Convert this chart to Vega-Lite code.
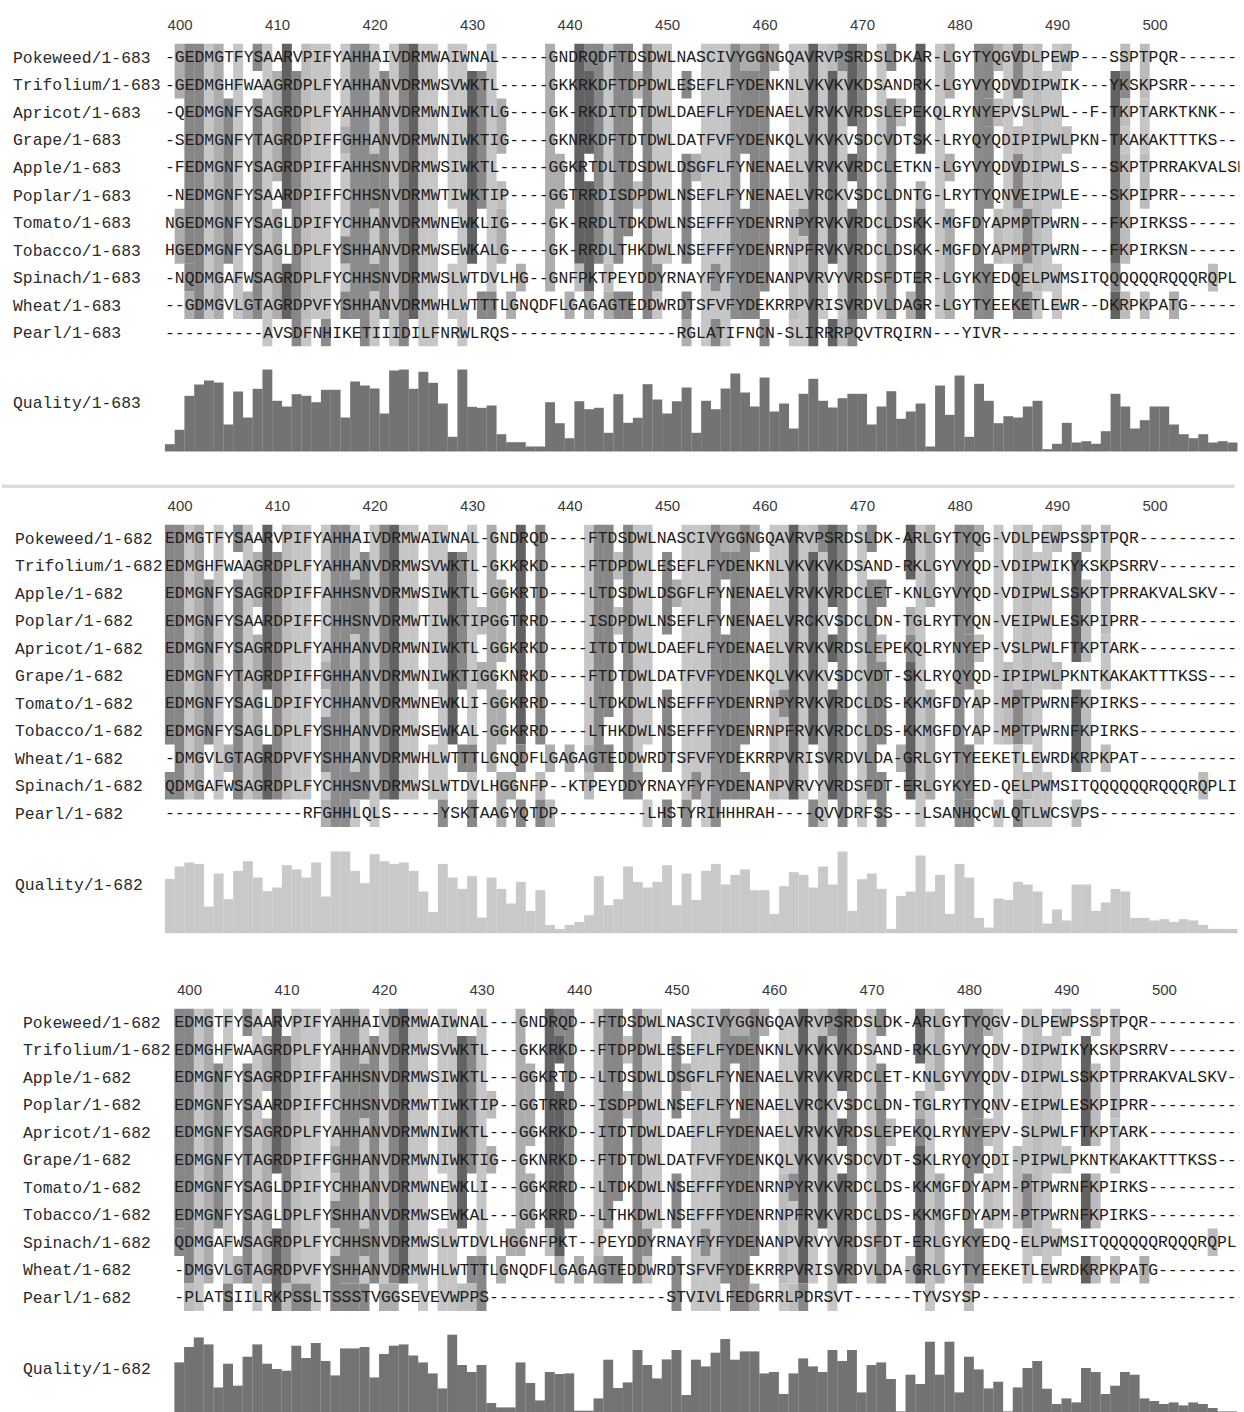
{
"$schema": "https://vega.github.io/schema/vega-lite/v6.json",
"background": "white",
"padding": {"left": 0, "top": 17.5, "right": 0, "bottom": 0},
"spacing": 0,
"bounds": "flush",
"config": {"view": {"stroke": null}, "axis": {"grid": false}},
"datasets": {
"seq1": [
{"name":"Pokeweed/1-683","start":399,"seq":"-GEDMGTFYSAARVPIFYAHHAIVDRMWAIWNAL-----GNDRQDFTDSDWLNASCIVYGGNGQAVRVPSRDSLDKAR-LGYTYQGVDLPEWP---SSPTPQR-------"},
{"name":"Trifolium/1-683","start":399,"seq":"-GEDMGHFWAAGRDPLFYAHHANVDRMWSVWKTL-----GKKRKDFTDPDWLESEFLFYDENKNLVKVKVKDSANDRK-LGYVYQDVDIPWIK---YKSKPSRR------"},
{"name":"Apricot/1-683","start":399,"seq":"-QEDMGNFYSAGRDPLFYAHHANVDRMWNIWKTLG----GK-RKDITDTDWLDAEFLFYDENAELVRVKVRDSLEPEKQLRYNYEPVSLPWL--F-TKPTARKTKNK---"},
{"name":"Grape/1-683","start":399,"seq":"-SEDMGNFYTAGRDPIFFGHHANVDRMWNIWKTIG----GKNRKDFTDTDWLDATFVFYDENKQLVKVKVSDCVDTSK-LRYQYQDIPIPWLPKN-TKAKAKTTTKS---"},
{"name":"Apple/1-683","start":399,"seq":"-FEDMGNFYSAGRDPIFFAHHSNVDRMWSIWKTL-----GGKRTDLTDSDWLDSGFLFYNENAELVRVKVRDCLETKN-LGYVYQDVDIPWLS---SKPTPRRAKVALSK"},
{"name":"Poplar/1-683","start":399,"seq":"-NEDMGNFYSAARDPIFFCHHSNVDRMWTIWKTIP----GGTRRDISDPDWLNSEFLFYNENAELVRCKVSDCLDNTG-LRYTYQNVEIPWLE---SKPIPRR-------"},
{"name":"Tomato/1-683","start":399,"seq":"NGEDMGNFYSAGLDPIFYCHHANVDRMWNEWKLIG----GK-RRDLTDKDWLNSEFFFYDENRNPYRVKVRDCLDSKK-MGFDYAPMPTPWRN---FKPIRKSS------"},
{"name":"Tobacco/1-683","start":399,"seq":"HGEDMGNFYSAGLDPLFYSHHANVDRMWSEWKALG----GK-RRDLTHKDWLNSEFFFYDENRNPFRVKVRDCLDSKK-MGFDYAPMPTPWRN---FKPIRKSN------"},
{"name":"Spinach/1-683","start":399,"seq":"-NQDMGAFWSAGRDPLFYCHHSNVDRMWSLWTDVLHG--GNFPKTPEYDDYRNAYFYFYDENANPVRVYVRDSFDTER-LGYKYEDQELPWMSITQQQQQQRQQQRQPL"},
{"name":"Wheat/1-683","start":399,"seq":"--GDMGVLGTAGRDPVFYSHHANVDRMWHLWTTTLGNQDFLGAGAGTEDDWRDTSFVFYDEKRRPVRISVRDVLDAGR-LGYTYEEKETLEWR--DKRPKPATG------"},
{"name":"Pearl/1-683","start":399,"seq":"----------AVSDFNHIKETIIIDILFNRWLRQS-----------------RGLATIFNCN-SLIRRRPQVTRQIRN---YIVR-------------------------"}
],
"seq2": [
{"name":"Pokeweed/1-682","start":399,"seq":"EDMGTFYSAARVPIFYAHHAIVDRMWAIWNAL-GNDRQD----FTDSDWLNASCIVYGGNGQAVRVPSRDSLDK-ARLGYTYQG-VDLPEWPSSPTPQR-----------"},
{"name":"Trifolium/1-682","start":399,"seq":"EDMGHFWAAGRDPLFYAHHANVDRMWSVWKTL-GKKRKD----FTDPDWLESEFLFYDENKNLVKVKVKDSAND-RKLGYVYQD-VDIPWIKYKSKPSRRV---------"},
{"name":"Apple/1-682","start":399,"seq":"EDMGNFYSAGRDPIFFAHHSNVDRMWSIWKTL-GGKRTD----LTDSDWLDSGFLFYNENAELVRVKVRDCLET-KNLGYVYQD-VDIPWLSSKPTPRRAKVALSKV---"},
{"name":"Poplar/1-682","start":399,"seq":"EDMGNFYSAARDPIFFCHHSNVDRMWTIWKTIPGGTRRD----ISDPDWLNSEFLFYNENAELVRCKVSDCLDN-TGLRYTYQN-VEIPWLESKPIPRR-----------"},
{"name":"Apricot/1-682","start":399,"seq":"EDMGNFYSAGRDPLFYAHHANVDRMWNIWKTL-GGKRKD----ITDTDWLDAEFLFYDENAELVRVKVRDSLEPEKQLRYNYEP-VSLPWLFTKPTARK-----------"},
{"name":"Grape/1-682","start":399,"seq":"EDMGNFYTAGRDPIFFGHHANVDRMWNIWKTIGGKNRKD----FTDTDWLDATFVFYDENKQLVKVKVSDCVDT-SKLRYQYQD-IPIPWLPKNTKAKAKTTTKSS----"},
{"name":"Tomato/1-682","start":399,"seq":"EDMGNFYSAGLDPIFYCHHANVDRMWNEWKLI-GGKRRD----LTDKDWLNSEFFFYDENRNPYRVKVRDCLDS-KKMGFDYAP-MPTPWRNFKPIRKS-----------"},
{"name":"Tobacco/1-682","start":399,"seq":"EDMGNFYSAGLDPLFYSHHANVDRMWSEWKAL-GGKRRD----LTHKDWLNSEFFFYDENRNPFRVKVRDCLDS-KKMGFDYAP-MPTPWRNFKPIRKS-----------"},
{"name":"Wheat/1-682","start":399,"seq":"-DMGVLGTAGRDPVFYSHHANVDRMWHLWTTTLGNQDFLGAGAGTEDDWRDTSFVFYDEKRRPVRISVRDVLDA-GRLGYTYEEKETLEWRDKRPKPAT-----------"},
{"name":"Spinach/1-682","start":399,"seq":"QDMGAFWSAGRDPLFYCHHSNVDRMWSLWTDVLHGGNFP--KTPEYDDYRNAYFYFYDENANPVRVYVRDSFDT-ERLGYKYED-QELPWMSITQQQQQQRQQQRQPLI"},
{"name":"Pearl/1-682","start":399,"seq":"--------------RFGHHLQLS-----YSKTAAGYQTDP---------LHSTYRIHHHRAH----QVVDRFSS---LSANHQCWLQTLWCSVPS---------------"}
],
"seq3": [
{"name":"Pokeweed/1-682","start":399,"seq":"EDMGTFYSAARVPIFYAHHAIVDRMWAIWNAL---GNDRQD--FTDSDWLNASCIVYGGNGQAVRVPSRDSLDK-ARLGYTYQGV-DLPEWPSSPTPQR-----------"},
{"name":"Trifolium/1-682","start":399,"seq":"EDMGHFWAAGRDPLFYAHHANVDRMWSVWKTL---GKKRKD--FTDPDWLESEFLFYDENKNLVKVKVKDSAND-RKLGYVYQDV-DIPWIKYKSKPSRRV---------"},
{"name":"Apple/1-682","start":399,"seq":"EDMGNFYSAGRDPIFFAHHSNVDRMWSIWKTL---GGKRTD--LTDSDWLDSGFLFYNENAELVRVKVRDCLET-KNLGYVYQDV-DIPWLSSKPTPRRAKVALSKV---"},
{"name":"Poplar/1-682","start":399,"seq":"EDMGNFYSAARDPIFFCHHSNVDRMWTIWKTIP--GGTRRD--ISDPDWLNSEFLFYNENAELVRCKVSDCLDN-TGLRYTYQNV-EIPWLESKPIPRR-----------"},
{"name":"Apricot/1-682","start":399,"seq":"EDMGNFYSAGRDPLFYAHHANVDRMWNIWKTL---GGKRKD--ITDTDWLDAEFLFYDENAELVRVKVRDSLEPEKQLRYNYEPV-SLPWLFTKPTARK-----------"},
{"name":"Grape/1-682","start":399,"seq":"EDMGNFYTAGRDPIFFGHHANVDRMWNIWKTIG--GKNRKD--FTDTDWLDATFVFYDENKQLVKVKVSDCVDT-SKLRYQYQDI-PIPWLPKNTKAKAKTTTKSS----"},
{"name":"Tomato/1-682","start":399,"seq":"EDMGNFYSAGLDPIFYCHHANVDRMWNEWKLI---GGKRRD--LTDKDWLNSEFFFYDENRNPYRVKVRDCLDS-KKMGFDYAPM-PTPWRNFKPIRKS-----------"},
{"name":"Tobacco/1-682","start":399,"seq":"EDMGNFYSAGLDPLFYSHHANVDRMWSEWKAL---GGKRRD--LTHKDWLNSEFFFYDENRNPFRVKVRDCLDS-KKMGFDYAPM-PTPWRNFKPIRKS-----------"},
{"name":"Spinach/1-682","start":399,"seq":"QDMGAFWSAGRDPLFYCHHSNVDRMWSLWTDVLHGGNFPKT--PEYDDYRNAYFYFYDENANPVRVYVRDSFDT-ERLGYKYEDQ-ELPWMSITQQQQQQRQQQRQPL"},
{"name":"Wheat/1-682","start":399,"seq":"-DMGVLGTAGRDPVFYSHHANVDRMWHLWTTTLGNQDFLGAGAGTEDDWRDTSFVFYDEKRRPVRISVRDVLDA-GRLGYTYEEKETLEWRDKRPKPATG----------"},
{"name":"Pearl/1-682","start":399,"seq":"-PLATSIILRKPSSLTSSSTVGGSEVEVWPPS------------------STVIVLFEDGRRLPDRSVT------TYVSYSP----------------------------"}
],
"shade1": [
{"c":400,"y0":0,"y1":2,"k":"o"},{"c":400,"y0":6,"y1":8,"k":"o"},
{"c":401,"y0":0,"y1":8,"k":"m"},{"c":401,"y0":8,"y1":9,"k":"g"},{"c":401,"y0":9,"y1":10,"k":"o"},
{"c":402,"y0":0,"y1":10,"k":"m"},{"c":403,"y0":0,"y1":10,"k":"b"},{"c":404,"y0":0,"y1":10,"k":"o"},
{"c":405,"y0":2,"y1":8,"k":"g"},{"c":406,"y0":0,"y1":10,"k":"b"},{"c":407,"y0":9,"y1":10,"k":"o"},
{"c":408,"y0":0,"y1":1,"k":"g"},{"c":408,"y0":2,"y1":10,"k":"g"},{"c":409,"y0":0,"y1":11,"k":"b"},
{"c":410,"y0":1,"y1":5,"k":"o"},{"c":410,"y0":6,"y1":10,"k":"o"},
{"c":411,"y0":0,"y1":6,"k":"r"},{"c":411,"y0":8,"y1":10,"k":"r"},
{"c":412,"y0":1,"y1":11,"k":"m"},{"c":413,"y0":0,"y1":10,"k":"y"},{"c":413,"y0":10,"y1":11,"k":"b"},
{"c":414,"y0":0,"y1":10,"k":"b"},{"c":415,"y0":0,"y1":10,"k":"b"},{"c":415,"y0":10,"y1":11,"k":"c"},
{"c":417,"y0":0,"y1":3,"k":"b"},{"c":417,"y0":3,"y1":4,"k":"o"},{"c":417,"y0":4,"y1":7,"k":"b"},{"c":417,"y0":7,"y1":8,"k":"g"},{"c":417,"y0":8,"y1":9,"k":"b"},{"c":417,"y0":9,"y1":10,"k":"g"},
{"c":418,"y0":0,"y1":10,"k":"c"},{"c":419,"y0":0,"y1":10,"k":"c"},{"c":419,"y0":10,"y1":11,"k":"g"},
{"c":420,"y0":0,"y1":4,"k":"b"},{"c":420,"y0":4,"y1":6,"k":"g"},{"c":420,"y0":6,"y1":8,"k":"b"},{"c":420,"y0":8,"y1":9,"k":"g"},{"c":420,"y0":9,"y1":11,"k":"b"},
{"c":421,"y0":1,"y1":10,"k":"g"},{"c":422,"y0":0,"y1":11,"k":"b"},{"c":423,"y0":0,"y1":11,"k":"m"},
{"c":424,"y0":0,"y1":10,"k":"r"},{"c":425,"y0":0,"y1":11,"k":"b"},{"c":426,"y0":0,"y1":11,"k":"b"},
{"c":428,"y0":0,"y1":6,"k":"b"},{"c":428,"y0":8,"y1":10,"k":"b"},{"c":429,"y0":0,"y1":11,"k":"b"},
{"c":430,"y0":1,"y1":8,"k":"r"},{"c":431,"y0":1,"y1":6,"k":"g"},{"c":431,"y0":9,"y1":10,"k":"g"},
{"c":432,"y0":0,"y1":9,"k":"b"},{"c":432,"y0":9,"y1":10,"k":"g"},
{"c":433,"y0":2,"y1":4,"k":"o"},{"c":433,"y0":5,"y1":6,"k":"y"},{"c":433,"y0":6,"y1":8,"k":"o"},
{"c":434,"y0":9,"y1":10,"k":"o"},{"c":435,"y0":8,"y1":9,"k":"o"},{"c":438,"y0":0,"y1":9,"k":"o"},
{"c":439,"y0":4,"y1":6,"k":"o"},{"c":440,"y0":9,"y1":10,"k":"o"},
{"c":441,"y0":0,"y1":8,"k":"r"},{"c":441,"y0":8,"y1":9,"k":"y"},
{"c":442,"y0":0,"y1":1,"k":"g"},{"c":442,"y0":1,"y1":4,"k":"r"},{"c":442,"y0":5,"y1":9,"k":"r"},{"c":442,"y0":9,"y1":10,"k":"o"},
{"c":443,"y0":0,"y1":8,"k":"m"},
{"c":444,"y0":0,"y1":8,"k":"b"},{"c":444,"y0":8,"y1":9,"k":"y"},{"c":444,"y0":9,"y1":10,"k":"o"},
{"c":445,"y0":0,"y1":8,"k":"g"},{"c":445,"y0":9,"y1":10,"k":"g"},
{"c":446,"y0":0,"y1":7,"k":"m"},{"c":446,"y0":9,"y1":10,"k":"m"},
{"c":447,"y0":1,"y1":2,"k":"y"},{"c":447,"y0":5,"y1":6,"k":"y"},{"c":448,"y0":0,"y1":10,"k":"m"},
{"c":449,"y0":0,"y1":8,"k":"b"},{"c":449,"y0":8,"y1":9,"k":"c"},{"c":449,"y0":9,"y1":10,"k":"b"},
{"c":450,"y0":0,"y1":8,"k":"b"},
{"c":452,"y0":1,"y1":2,"k":"g"},{"c":452,"y0":4,"y1":8,"k":"g"},{"c":452,"y0":9,"y1":10,"k":"g"},{"c":452,"y0":10,"y1":11,"k":"o"},
{"c":453,"y0":4,"y1":5,"k":"o"},{"c":454,"y0":0,"y1":11,"k":"b"},
{"c":455,"y0":0,"y1":8,"k":"b"},{"c":455,"y0":8,"y1":9,"k":"c"},{"c":455,"y0":9,"y1":10,"k":"b"},{"c":455,"y0":10,"y1":11,"k":"g"},
{"c":456,"y0":0,"y1":11,"k":"b"},{"c":457,"y0":0,"y1":10,"k":"c"},
{"c":458,"y0":0,"y1":1,"k":"o"},{"c":458,"y0":1,"y1":4,"k":"m"},{"c":458,"y0":6,"y1":10,"k":"m"},
{"c":459,"y0":0,"y1":1,"k":"o"},{"c":459,"y0":1,"y1":10,"k":"m"},
{"c":460,"y0":0,"y1":9,"k":"g"},{"c":460,"y0":10,"y1":11,"k":"g"},{"c":461,"y0":0,"y1":1,"k":"o"},
{"c":463,"y0":0,"y1":6,"k":"b"},{"c":463,"y0":6,"y1":10,"k":"y"},{"c":463,"y0":10,"y1":11,"k":"b"},
{"c":464,"y0":0,"y1":6,"k":"b"},{"c":464,"y0":6,"y1":7,"k":"c"},{"c":464,"y0":7,"y1":11,"k":"b"},
{"c":465,"y0":0,"y1":11,"k":"r"},{"c":466,"y0":0,"y1":10,"k":"b"},
{"c":467,"y0":0,"y1":1,"k":"y"},{"c":467,"y0":1,"y1":8,"k":"r"},{"c":467,"y0":10,"y1":11,"k":"r"},
{"c":468,"y0":0,"y1":1,"k":"g"},{"c":468,"y0":1,"y1":10,"k":"b"},{"c":468,"y0":10,"y1":11,"k":"y"},
{"c":469,"y0":0,"y1":3,"k":"r"},{"c":469,"y0":4,"y1":5,"k":"r"},{"c":469,"y0":6,"y1":10,"k":"r"},{"c":469,"y0":10,"y1":11,"k":"g"},
{"c":470,"y0":0,"y1":10,"k":"m"},{"c":472,"y0":0,"y1":10,"k":"b"},
{"c":473,"y0":0,"y1":1,"k":"m"},{"c":473,"y0":2,"y1":10,"k":"m"},
{"c":474,"y0":2,"y1":3,"k":"y"},{"c":475,"y0":9,"y1":10,"k":"o"},
{"c":476,"y0":0,"y1":4,"k":"r"},{"c":476,"y0":5,"y1":6,"k":"o"},{"c":476,"y0":6,"y1":10,"k":"r"},
{"c":478,"y0":0,"y1":10,"k":"b"},
{"c":479,"y0":0,"y1":2,"k":"o"},{"c":479,"y0":4,"y1":5,"k":"o"},{"c":479,"y0":6,"y1":10,"k":"o"},
{"c":482,"y0":0,"y1":10,"k":"c"},
{"c":483,"y0":0,"y1":2,"k":"g"},{"c":483,"y0":2,"y1":3,"k":"m"},{"c":483,"y0":3,"y1":6,"k":"g"},{"c":483,"y0":8,"y1":10,"k":"m"},
{"c":484,"y0":0,"y1":1,"k":"o"},{"c":484,"y0":2,"y1":3,"k":"y"},{"c":484,"y0":6,"y1":8,"k":"y"},
{"c":485,"y0":0,"y1":8,"k":"b"},
{"c":486,"y0":0,"y1":2,"k":"m"},{"c":486,"y0":3,"y1":4,"k":"y"},{"c":486,"y0":4,"y1":6,"k":"m"},{"c":486,"y0":6,"y1":8,"k":"y"},{"c":486,"y0":8,"y1":10,"k":"m"},
{"c":487,"y0":0,"y1":6,"k":"b"},{"c":487,"y0":6,"y1":8,"k":"g"},{"c":487,"y0":8,"y1":9,"k":"b"},{"c":487,"y0":9,"y1":10,"k":"g"},
{"c":488,"y0":0,"y1":9,"k":"y"},{"c":488,"y0":9,"y1":10,"k":"b"},{"c":489,"y0":1,"y1":9,"k":"b"},
{"c":490,"y0":0,"y1":6,"k":"b"},{"c":490,"y0":8,"y1":10,"k":"b"},
{"c":491,"y0":0,"y1":1,"k":"y"},{"c":491,"y0":3,"y1":4,"k":"y"},
{"c":496,"y0":1,"y1":8,"k":"r"},{"c":496,"y0":8,"y1":9,"k":"g"},{"c":496,"y0":9,"y1":10,"k":"r"},
{"c":497,"y0":0,"y1":1,"k":"y"},{"c":497,"y0":1,"y1":2,"k":"g"},{"c":497,"y0":2,"y1":3,"k":"y"},{"c":497,"y0":3,"y1":4,"k":"b"},{"c":497,"y0":4,"y1":8,"k":"y"},{"c":497,"y0":9,"y1":10,"k":"y"},
{"c":499,"y0":0,"y1":2,"k":"y"},{"c":499,"y0":2,"y1":4,"k":"b"},{"c":499,"y0":4,"y1":6,"k":"y"},{"c":499,"y0":9,"y1":10,"k":"y"},
{"c":502,"y0":9,"y1":10,"k":"o"},{"c":506,"y0":8,"y1":9,"k":"y"}
],
"shade2": [
{"c":399,"y0":0,"y1":8,"k":"m"},{"c":399,"y0":9,"y1":10,"k":"g"},
{"c":400,"y0":0,"y1":10,"k":"m"},{"c":401,"y0":0,"y1":10,"k":"b"},{"c":402,"y0":0,"y1":10,"k":"o"},
{"c":403,"y0":2,"y1":8,"k":"g"},{"c":404,"y0":0,"y1":10,"k":"b"},{"c":405,"y0":8,"y1":9,"k":"o"},
{"c":406,"y0":0,"y1":1,"k":"g"},{"c":406,"y0":2,"y1":10,"k":"g"},{"c":407,"y0":0,"y1":10,"k":"b"},
{"c":408,"y0":1,"y1":3,"k":"o"},{"c":408,"y0":4,"y1":10,"k":"o"},
{"c":409,"y0":0,"y1":6,"k":"r"},{"c":409,"y0":8,"y1":10,"k":"r"},
{"c":410,"y0":1,"y1":10,"k":"m"},{"c":411,"y0":0,"y1":10,"k":"y"},{"c":412,"y0":0,"y1":10,"k":"b"},{"c":413,"y0":0,"y1":10,"k":"b"},
{"c":415,"y0":0,"y1":5,"k":"b"},{"c":415,"y0":5,"y1":6,"k":"o"},{"c":415,"y0":6,"y1":7,"k":"b"},{"c":415,"y0":7,"y1":9,"k":"g"},{"c":415,"y0":9,"y1":10,"k":"b"},{"c":415,"y0":10,"y1":11,"k":"o"},
{"c":416,"y0":0,"y1":11,"k":"c"},{"c":417,"y0":0,"y1":11,"k":"c"},
{"c":418,"y0":0,"y1":2,"k":"b"},{"c":418,"y0":2,"y1":4,"k":"g"},{"c":418,"y0":4,"y1":9,"k":"b"},{"c":418,"y0":9,"y1":10,"k":"g"},{"c":418,"y0":10,"y1":11,"k":"b"},
{"c":419,"y0":1,"y1":10,"k":"g"},{"c":420,"y0":0,"y1":11,"k":"b"},{"c":421,"y0":0,"y1":10,"k":"m"},
{"c":422,"y0":0,"y1":10,"k":"r"},{"c":423,"y0":0,"y1":10,"k":"b"},{"c":424,"y0":0,"y1":10,"k":"b"},
{"c":426,"y0":0,"y1":6,"k":"b"},{"c":426,"y0":8,"y1":10,"k":"b"},
{"c":427,"y0":0,"y1":10,"k":"b"},{"c":427,"y0":10,"y1":11,"k":"c"},
{"c":428,"y0":1,"y1":8,"k":"r"},{"c":429,"y0":1,"y1":6,"k":"g"},{"c":429,"y0":8,"y1":9,"k":"g"},
{"c":430,"y0":0,"y1":8,"k":"b"},{"c":430,"y0":8,"y1":9,"k":"g"},{"c":430,"y0":9,"y1":10,"k":"b"},{"c":430,"y0":10,"y1":11,"k":"g"},
{"c":431,"y0":3,"y1":4,"k":"y"},{"c":431,"y0":5,"y1":6,"k":"o"},{"c":432,"y0":0,"y1":9,"k":"o"},
{"c":433,"y0":2,"y1":5,"k":"o"},{"c":433,"y0":6,"y1":8,"k":"o"},{"c":433,"y0":9,"y1":11,"k":"o"},
{"c":434,"y0":9,"y1":10,"k":"o"},
{"c":435,"y0":0,"y1":8,"k":"r"},{"c":435,"y0":8,"y1":9,"k":"m"},{"c":435,"y0":10,"y1":11,"k":"g"},
{"c":437,"y0":0,"y1":8,"k":"m"},{"c":437,"y0":9,"y1":10,"k":"y"},{"c":437,"y0":10,"y1":11,"k":"m"},
{"c":438,"y0":8,"y1":9,"k":"o"},{"c":438,"y0":10,"y1":11,"k":"y"},{"c":440,"y0":8,"y1":9,"k":"o"},
{"c":442,"y0":0,"y1":8,"k":"b"},{"c":442,"y0":8,"y1":9,"k":"o"},{"c":442,"y0":9,"y1":10,"k":"y"},
{"c":443,"y0":0,"y1":9,"k":"g"},{"c":444,"y0":0,"y1":7,"k":"m"},{"c":444,"y0":8,"y1":9,"k":"m"},
{"c":445,"y0":1,"y1":2,"k":"y"},{"c":445,"y0":3,"y1":4,"k":"y"},{"c":446,"y0":0,"y1":10,"k":"m"},
{"c":447,"y0":0,"y1":9,"k":"b"},{"c":447,"y0":9,"y1":10,"k":"c"},
{"c":448,"y0":0,"y1":8,"k":"b"},{"c":448,"y0":10,"y1":11,"k":"b"},
{"c":450,"y0":1,"y1":4,"k":"g"},{"c":450,"y0":6,"y1":9,"k":"g"},{"c":450,"y0":10,"y1":11,"k":"g"},
{"c":451,"y0":2,"y1":3,"k":"o"},{"c":452,"y0":0,"y1":10,"k":"b"},{"c":452,"y0":10,"y1":11,"k":"c"},
{"c":453,"y0":0,"y1":9,"k":"b"},{"c":453,"y0":9,"y1":10,"k":"c"},{"c":454,"y0":0,"y1":11,"k":"b"},{"c":455,"y0":0,"y1":11,"k":"c"},
{"c":456,"y0":0,"y1":1,"k":"o"},{"c":456,"y0":1,"y1":2,"k":"m"},{"c":456,"y0":4,"y1":10,"k":"m"},
{"c":457,"y0":0,"y1":1,"k":"o"},{"c":457,"y0":1,"y1":10,"k":"m"},
{"c":458,"y0":0,"y1":8,"k":"g"},{"c":458,"y0":9,"y1":10,"k":"g"},{"c":459,"y0":0,"y1":1,"k":"o"},
{"c":461,"y0":0,"y1":6,"k":"b"},{"c":461,"y0":6,"y1":10,"k":"y"},
{"c":462,"y0":0,"y1":6,"k":"b"},{"c":462,"y0":6,"y1":7,"k":"c"},{"c":462,"y0":7,"y1":10,"k":"b"},
{"c":463,"y0":0,"y1":10,"k":"r"},{"c":464,"y0":0,"y1":10,"k":"b"},
{"c":465,"y0":0,"y1":1,"k":"y"},{"c":465,"y0":1,"y1":8,"k":"r"},{"c":465,"y0":10,"y1":11,"k":"g"},
{"c":466,"y0":0,"y1":1,"k":"g"},{"c":466,"y0":1,"y1":11,"k":"b"},
{"c":467,"y0":0,"y1":3,"k":"r"},{"c":467,"y0":4,"y1":5,"k":"r"},{"c":467,"y0":6,"y1":10,"k":"r"},
{"c":468,"y0":0,"y1":11,"k":"m"},{"c":470,"y0":0,"y1":11,"k":"b"},
{"c":471,"y0":0,"y1":1,"k":"m"},{"c":471,"y0":2,"y1":10,"k":"m"},
{"c":472,"y0":2,"y1":3,"k":"g"},{"c":472,"y0":4,"y1":5,"k":"y"},{"c":472,"y0":5,"y1":8,"k":"g"},{"c":472,"y0":9,"y1":11,"k":"g"},
{"c":474,"y0":8,"y1":9,"k":"o"},
{"c":475,"y0":0,"y1":2,"k":"r"},{"c":475,"y0":3,"y1":4,"k":"o"},{"c":475,"y0":4,"y1":5,"k":"g"},{"c":475,"y0":5,"y1":10,"k":"r"},
{"c":476,"y0":0,"y1":11,"k":"b"},{"c":477,"y0":0,"y1":3,"k":"o"},{"c":477,"y0":6,"y1":10,"k":"o"},
{"c":480,"y0":0,"y1":11,"k":"c"},
{"c":481,"y0":0,"y1":4,"k":"g"},{"c":481,"y0":4,"y1":5,"k":"m"},{"c":481,"y0":5,"y1":6,"k":"g"},{"c":481,"y0":8,"y1":10,"k":"m"},{"c":481,"y0":10,"y1":11,"k":"g"},
{"c":482,"y0":0,"y1":1,"k":"o"},{"c":482,"y0":4,"y1":5,"k":"y"},{"c":482,"y0":6,"y1":8,"k":"y"},
{"c":484,"y0":0,"y1":8,"k":"b"},{"c":484,"y0":10,"y1":11,"k":"b"},{"c":485,"y0":5,"y1":8,"k":"y"},
{"c":486,"y0":0,"y1":6,"k":"b"},{"c":486,"y0":6,"y1":8,"k":"g"},{"c":486,"y0":8,"y1":10,"k":"b"},{"c":486,"y0":10,"y1":11,"k":"g"},
{"c":487,"y0":0,"y1":8,"k":"y"},{"c":487,"y0":9,"y1":10,"k":"y"},{"c":487,"y0":10,"y1":11,"k":"b"},
{"c":488,"y0":1,"y1":11,"k":"b"},{"c":489,"y0":0,"y1":6,"k":"b"},{"c":489,"y0":9,"y1":11,"k":"b"},
{"c":490,"y0":0,"y1":1,"k":"y"},{"c":490,"y0":5,"y1":6,"k":"y"},
{"c":492,"y0":1,"y1":5,"k":"r"},{"c":492,"y0":6,"y1":9,"k":"r"},{"c":492,"y0":10,"y1":11,"k":"y"},
{"c":493,"y0":0,"y1":1,"k":"y"},{"c":493,"y0":2,"y1":5,"k":"y"},{"c":493,"y0":6,"y1":9,"k":"y"},
{"c":495,"y0":0,"y1":4,"k":"y"},{"c":495,"y0":4,"y1":6,"k":"b"},{"c":495,"y0":8,"y1":9,"k":"y"},
{"c":505,"y0":9,"y1":10,"k":"y"}
],
"shade3": [
{"c":399,"y0":0,"y1":8,"k":"m"},{"c":399,"y0":8,"y1":9,"k":"g"},
{"c":400,"y0":0,"y1":10,"k":"m"},{"c":400,"y0":10,"y1":11,"k":"y"},
{"c":401,"y0":0,"y1":11,"k":"b"},{"c":402,"y0":0,"y1":10,"k":"o"},{"c":403,"y0":2,"y1":8,"k":"g"},
{"c":404,"y0":0,"y1":10,"k":"b"},{"c":404,"y0":10,"y1":11,"k":"g"},{"c":405,"y0":9,"y1":10,"k":"o"},
{"c":406,"y0":0,"y1":1,"k":"g"},{"c":406,"y0":2,"y1":10,"k":"g"},{"c":407,"y0":0,"y1":11,"k":"b"},
{"c":408,"y0":1,"y1":3,"k":"o"},{"c":408,"y0":4,"y1":10,"k":"o"},
{"c":409,"y0":0,"y1":6,"k":"r"},{"c":409,"y0":8,"y1":11,"k":"r"},
{"c":410,"y0":1,"y1":10,"k":"m"},{"c":410,"y0":10,"y1":11,"k":"y"},
{"c":411,"y0":0,"y1":10,"k":"y"},{"c":411,"y0":10,"y1":11,"k":"g"},
{"c":412,"y0":0,"y1":10,"k":"b"},{"c":412,"y0":10,"y1":11,"k":"g"},{"c":413,"y0":0,"y1":11,"k":"b"},
{"c":415,"y0":0,"y1":5,"k":"b"},{"c":415,"y0":5,"y1":6,"k":"o"},{"c":415,"y0":6,"y1":7,"k":"b"},{"c":415,"y0":7,"y1":8,"k":"g"},{"c":415,"y0":8,"y1":9,"k":"b"},{"c":415,"y0":9,"y1":11,"k":"g"},
{"c":416,"y0":0,"y1":10,"k":"c"},{"c":416,"y0":10,"y1":11,"k":"g"},
{"c":417,"y0":0,"y1":10,"k":"c"},{"c":417,"y0":10,"y1":11,"k":"g"},
{"c":418,"y0":0,"y1":2,"k":"b"},{"c":418,"y0":2,"y1":4,"k":"g"},{"c":418,"y0":4,"y1":8,"k":"b"},{"c":418,"y0":8,"y1":9,"k":"g"},{"c":418,"y0":9,"y1":10,"k":"b"},{"c":418,"y0":10,"y1":11,"k":"g"},
{"c":419,"y0":1,"y1":10,"k":"g"},
{"c":420,"y0":0,"y1":10,"k":"b"},{"c":420,"y0":10,"y1":11,"k":"o"},
{"c":421,"y0":0,"y1":10,"k":"m"},{"c":421,"y0":10,"y1":11,"k":"o"},
{"c":422,"y0":0,"y1":10,"k":"r"},{"c":423,"y0":0,"y1":10,"k":"b"},{"c":424,"y0":0,"y1":11,"k":"b"},
{"c":426,"y0":0,"y1":6,"k":"b"},{"c":426,"y0":8,"y1":11,"k":"b"},{"c":427,"y0":0,"y1":11,"k":"b"},
{"c":428,"y0":1,"y1":8,"k":"r"},{"c":428,"y0":10,"y1":11,"k":"y"},
{"c":429,"y0":1,"y1":6,"k":"g"},{"c":429,"y0":9,"y1":10,"k":"g"},{"c":429,"y0":10,"y1":11,"k":"y"},
{"c":430,"y0":0,"y1":9,"k":"b"},{"c":430,"y0":9,"y1":11,"k":"g"},
{"c":431,"y0":3,"y1":4,"k":"y"},{"c":431,"y0":5,"y1":6,"k":"o"},
{"c":432,"y0":9,"y1":10,"k":"o"},{"c":433,"y0":8,"y1":9,"k":"o"},{"c":434,"y0":0,"y1":9,"k":"o"},
{"c":435,"y0":2,"y1":5,"k":"o"},{"c":435,"y0":6,"y1":8,"k":"o"},
{"c":437,"y0":0,"y1":8,"k":"r"},{"c":437,"y0":8,"y1":9,"k":"y"},
{"c":438,"y0":0,"y1":1,"k":"g"},{"c":438,"y0":1,"y1":2,"k":"r"},{"c":438,"y0":3,"y1":9,"k":"r"},{"c":438,"y0":9,"y1":10,"k":"o"},
{"c":439,"y0":0,"y1":8,"k":"m"},{"c":440,"y0":9,"y1":10,"k":"o"},
{"c":442,"y0":0,"y1":8,"k":"b"},{"c":442,"y0":8,"y1":9,"k":"y"},{"c":442,"y0":9,"y1":10,"k":"o"},
{"c":443,"y0":0,"y1":8,"k":"g"},{"c":443,"y0":9,"y1":10,"k":"g"},
{"c":444,"y0":0,"y1":7,"k":"m"},{"c":444,"y0":9,"y1":10,"k":"m"},
{"c":445,"y0":1,"y1":2,"k":"y"},{"c":445,"y0":3,"y1":4,"k":"y"},{"c":446,"y0":0,"y1":10,"k":"m"},
{"c":447,"y0":0,"y1":8,"k":"b"},{"c":447,"y0":8,"y1":9,"k":"c"},{"c":447,"y0":9,"y1":10,"k":"b"},
{"c":448,"y0":0,"y1":8,"k":"b"},
{"c":450,"y0":1,"y1":4,"k":"g"},{"c":450,"y0":6,"y1":8,"k":"g"},{"c":450,"y0":9,"y1":11,"k":"g"},
{"c":451,"y0":2,"y1":3,"k":"o"},{"c":452,"y0":0,"y1":11,"k":"b"},
{"c":453,"y0":0,"y1":8,"k":"b"},{"c":453,"y0":8,"y1":9,"k":"c"},{"c":453,"y0":9,"y1":11,"k":"b"},
{"c":454,"y0":0,"y1":11,"k":"b"},{"c":455,"y0":0,"y1":10,"k":"c"},
{"c":456,"y0":0,"y1":1,"k":"o"},{"c":456,"y0":1,"y1":2,"k":"m"},{"c":456,"y0":4,"y1":11,"k":"m"},
{"c":457,"y0":0,"y1":1,"k":"o"},{"c":457,"y0":1,"y1":11,"k":"m"},
{"c":458,"y0":0,"y1":9,"k":"g"},{"c":458,"y0":10,"y1":11,"k":"o"},{"c":459,"y0":0,"y1":1,"k":"o"},
{"c":461,"y0":0,"y1":6,"k":"b"},{"c":461,"y0":6,"y1":10,"k":"y"},{"c":461,"y0":10,"y1":11,"k":"b"},
{"c":462,"y0":0,"y1":6,"k":"b"},{"c":462,"y0":6,"y1":7,"k":"c"},{"c":462,"y0":7,"y1":10,"k":"b"},{"c":462,"y0":10,"y1":11,"k":"y"},
{"c":463,"y0":0,"y1":10,"k":"r"},{"c":463,"y0":10,"y1":11,"k":"m"},{"c":464,"y0":0,"y1":10,"k":"b"},
{"c":465,"y0":0,"y1":1,"k":"y"},{"c":465,"y0":1,"y1":8,"k":"r"},
{"c":466,"y0":0,"y1":1,"k":"g"},{"c":466,"y0":1,"y1":11,"k":"b"},
{"c":467,"y0":0,"y1":3,"k":"r"},{"c":467,"y0":4,"y1":5,"k":"r"},{"c":467,"y0":6,"y1":10,"k":"r"},
{"c":468,"y0":0,"y1":10,"k":"m"},{"c":470,"y0":0,"y1":10,"k":"b"},
{"c":471,"y0":0,"y1":1,"k":"m"},{"c":471,"y0":2,"y1":10,"k":"m"},{"c":472,"y0":4,"y1":5,"k":"y"},
{"c":474,"y0":9,"y1":10,"k":"o"},
{"c":475,"y0":0,"y1":2,"k":"r"},{"c":475,"y0":3,"y1":4,"k":"o"},{"c":475,"y0":4,"y1":5,"k":"g"},{"c":475,"y0":5,"y1":10,"k":"r"},
{"c":476,"y0":0,"y1":11,"k":"b"},{"c":477,"y0":0,"y1":3,"k":"o"},{"c":477,"y0":6,"y1":10,"k":"o"},
{"c":480,"y0":0,"y1":10,"k":"c"},{"c":480,"y0":10,"y1":11,"k":"y"},
{"c":481,"y0":0,"y1":4,"k":"g"},{"c":481,"y0":4,"y1":5,"k":"m"},{"c":481,"y0":5,"y1":6,"k":"g"},{"c":481,"y0":8,"y1":10,"k":"m"},
{"c":482,"y0":0,"y1":1,"k":"o"},{"c":482,"y0":4,"y1":5,"k":"y"},{"c":482,"y0":6,"y1":8,"k":"y"},
{"c":483,"y0":0,"y1":8,"k":"b"},{"c":485,"y0":5,"y1":8,"k":"y"},
{"c":486,"y0":0,"y1":6,"k":"b"},{"c":486,"y0":6,"y1":8,"k":"g"},{"c":486,"y0":8,"y1":10,"k":"b"},
{"c":487,"y0":0,"y1":9,"k":"y"},{"c":488,"y0":1,"y1":10,"k":"b"},
{"c":489,"y0":0,"y1":6,"k":"b"},{"c":489,"y0":8,"y1":9,"k":"b"},
{"c":490,"y0":0,"y1":1,"k":"y"},{"c":490,"y0":5,"y1":6,"k":"y"},
{"c":492,"y0":1,"y1":5,"k":"r"},{"c":492,"y0":6,"y1":8,"k":"r"},{"c":492,"y0":9,"y1":10,"k":"r"},
{"c":493,"y0":0,"y1":1,"k":"y"},{"c":493,"y0":2,"y1":5,"k":"y"},{"c":493,"y0":6,"y1":8,"k":"y"},{"c":493,"y0":9,"y1":10,"k":"y"},
{"c":495,"y0":0,"y1":4,"k":"y"},{"c":495,"y0":4,"y1":6,"k":"b"},{"c":495,"y0":9,"y1":10,"k":"y"},
{"c":498,"y0":9,"y1":10,"k":"o"},{"c":505,"y0":8,"y1":9,"k":"y"}
],
"q1": [
{"c":399,"q":7.3},{"c":400,"q":21.7},{"c":401,"q":55.7},{"c":402,"q":67},{"c":403,"q":71},{"c":404,"q":69},{"c":405,"q":27},{"c":406,"q":60},{"c":407,"q":34},{"c":408,"q":62.7},
{"c":409,"q":82},{"c":410,"q":50.7},{"c":411,"q":45},{"c":412,"q":57.3},{"c":413,"q":55.7},{"c":414,"q":49.3},{"c":415,"q":61.7},{"c":416,"q":61.7},{"c":417,"q":34},{"c":418,"q":70},
{"c":419,"q":66},{"c":420,"q":63},{"c":421,"q":38},{"c":422,"q":81},{"c":423,"q":82},{"c":424,"q":62.7},{"c":425,"q":79.7},{"c":426,"q":68.7},{"c":427,"q":48},{"c":428,"q":14.7},
{"c":429,"q":82},{"c":430,"q":44.7},{"c":431,"q":43.7},{"c":432,"q":46},{"c":433,"q":17.3},{"c":434,"q":9.3},{"c":435,"q":9.3},{"c":436,"q":5},{"c":437,"q":5},{"c":438,"q":49.3},
{"c":439,"q":28.3},{"c":440,"q":13.3},{"c":441,"q":50.3},{"c":442,"q":42.3},{"c":443,"q":43.7},{"c":444,"q":18.7},{"c":445,"q":57.3},{"c":446,"q":28.7},{"c":447,"q":33.7},{"c":448,"q":67.3},
{"c":449,"q":52},{"c":450,"q":38},{"c":451,"q":50.3},{"c":452,"q":64},{"c":453,"q":18.7},{"c":454,"q":50.7},{"c":455,"q":42.3},{"c":456,"q":63},{"c":457,"q":78},{"c":458,"q":59},
{"c":459,"q":45},{"c":460,"q":74},{"c":461,"q":40},{"c":462,"q":48},{"c":463,"q":23},{"c":464,"q":57.7},{"c":465,"q":72.7},{"c":466,"q":50.7},{"c":467,"q":44},{"c":468,"q":53.3},
{"c":469,"q":57.7},{"c":470,"q":57.7},{"c":471,"q":27},{"c":472,"q":45},{"c":473,"q":60.3},{"c":474,"q":32.7},{"c":475,"q":40},{"c":476,"q":48},{"c":477,"q":5},{"c":478,"q":66},
{"c":479,"q":36.7},{"c":480,"q":76},{"c":481,"q":14.7},{"c":482,"q":67.7},{"c":483,"q":50.7},{"c":484,"q":28.3},{"c":485,"q":35.3},{"c":486,"q":34},{"c":487,"q":45},{"c":488,"q":50.7},
{"c":489,"q":2.3},{"c":490,"q":7.7},{"c":491,"q":28.7},{"c":492,"q":9},{"c":493,"q":10.3},{"c":494,"q":7.7},{"c":495,"q":20.3},{"c":496,"q":57.7},{"c":497,"q":45},{"c":498,"q":23},
{"c":499,"q":31.3},{"c":500,"q":45},{"c":501,"q":45},{"c":502,"q":27},{"c":503,"q":17.3},{"c":504,"q":13.3},{"c":505,"q":17.3},{"c":506,"q":9},{"c":507,"q":10.3},{"c":508,"q":9}
],
"q2": [
{"c":399,"q":54.3},{"c":400,"q":66.7},{"c":401,"q":70.7},{"c":402,"q":69.3},{"c":403,"q":26.7},{"c":404,"q":59.7},{"c":405,"q":34},{"c":406,"q":62.3},{"c":407,"q":72},{"c":408,"q":55.7},
{"c":409,"q":42},{"c":410,"q":45.7},{"c":411,"q":68},{"c":412,"q":63.7},{"c":413,"q":55.7},{"c":414,"q":70.7},{"c":415,"q":36.7},{"c":416,"q":81.7},{"c":417,"q":81.7},{"c":418,"q":62.3},
{"c":419,"q":50},{"c":420,"q":79},{"c":421,"q":72},{"c":422,"q":69.3},{"c":423,"q":70.7},{"c":424,"q":62.3},{"c":425,"q":41.7},{"c":426,"q":21.3},{"c":427,"q":69.3},{"c":428,"q":55.7},
{"c":429,"q":44.3},{"c":430,"q":57},{"c":431,"q":15.7},{"c":432,"q":55.7},{"c":433,"q":44.3},{"c":434,"q":29.7},{"c":435,"q":51.3},{"c":436,"q":22.3},{"c":437,"q":43},{"c":438,"q":8.3},
{"c":439,"q":4.3},{"c":440,"q":8.3},{"c":441,"q":11.3},{"c":442,"q":18},{"c":443,"q":57},{"c":444,"q":28},{"c":445,"q":34},{"c":446,"q":66.7},{"c":447,"q":51.3},{"c":448,"q":45.7},
{"c":449,"q":51.3},{"c":450,"q":68},{"c":451,"q":28},{"c":452,"q":59.7},{"c":453,"q":33.3},{"c":454,"q":62.3},{"c":455,"q":69.3},{"c":456,"q":48.7},{"c":457,"q":58.3},{"c":458,"q":63.7},
{"c":459,"q":43},{"c":460,"q":43},{"c":461,"q":19.3},{"c":462,"q":47},{"c":463,"q":61},{"c":464,"q":58.3},{"c":465,"q":45.7},{"c":466,"q":66.7},{"c":467,"q":48.7},{"c":468,"q":81.7},
{"c":469,"q":22.3},{"c":470,"q":54},{"c":471,"q":59.7},{"c":472,"q":44.3},{"c":473,"q":4.3},{"c":474,"q":37.3},{"c":475,"q":41.7},{"c":476,"q":77.7},{"c":477,"q":41.7},{"c":478,"q":58.3},
{"c":479,"q":19.3},{"c":480,"q":69.3},{"c":481,"q":55.7},{"c":482,"q":15.3},{"c":483,"q":5.7},{"c":484,"q":34.7},{"c":485,"q":33.3},{"c":486,"q":51.3},{"c":487,"q":48.7},{"c":488,"q":41.7},
{"c":489,"q":9.7},{"c":490,"q":23.7},{"c":491,"q":12.7},{"c":492,"q":48.7},{"c":493,"q":48.7},{"c":494,"q":22.3},{"c":495,"q":30.7},{"c":496,"q":44.3},{"c":497,"q":41.7},{"c":498,"q":15.3},
{"c":499,"q":15.3},{"c":500,"q":12.7},{"c":501,"q":14},{"c":502,"q":11.3},{"c":503,"q":14},{"c":504,"q":12.7},{"c":505,"q":8.3},{"c":506,"q":4.3},{"c":507,"q":4.3},{"c":508,"q":4.3}
],
"q3": [
{"c":399,"q":50.3},{"c":400,"q":65.7},{"c":401,"q":75.3},{"c":402,"q":68.3},{"c":403,"q":25.3},{"c":404,"q":49},{"c":405,"q":27},{"c":406,"q":56},{"c":407,"q":68.3},{"c":408,"q":49},
{"c":409,"q":43.7},{"c":410,"q":42},{"c":411,"q":67},{"c":412,"q":54.7},{"c":413,"q":69.7},{"c":414,"q":51.7},{"c":415,"q":37.3},{"c":416,"q":64.3},{"c":417,"q":64.3},{"c":418,"q":65.7},
{"c":419,"q":35.3},{"c":420,"q":58.7},{"c":421,"q":67},{"c":422,"q":68.3},{"c":423,"q":57.3},{"c":424,"q":50.3},{"c":425,"q":39.3},{"c":426,"q":24.3},{"c":427,"q":78},{"c":428,"q":47.7},
{"c":429,"q":40.7},{"c":430,"q":47.7},{"c":431,"q":9.7},{"c":432,"q":5.3},{"c":433,"q":5.3},{"c":434,"q":50.3},{"c":435,"q":29.7},{"c":436,"q":12.3},{"c":437,"q":40.7},{"c":438,"q":38.7},
{"c":439,"q":39.3},{"c":440,"q":2},{"c":441,"q":2},{"c":442,"q":14.3},{"c":443,"q":53},{"c":444,"q":24.7},{"c":445,"q":30.3},{"c":446,"q":62.7},{"c":447,"q":47.7},{"c":448,"q":34.3},
{"c":449,"q":53.3},{"c":450,"q":62.7},{"c":451,"q":17.7},{"c":452,"q":53},{"c":453,"q":46.3},{"c":454,"q":60},{"c":455,"q":73.7},{"c":456,"q":53},{"c":457,"q":61.3},{"c":458,"q":61.3},
{"c":459,"q":39.3},{"c":460,"q":40.7},{"c":461,"q":18.7},{"c":462,"q":39.3},{"c":463,"q":54.3},{"c":464,"q":46.3},{"c":465,"q":40.7},{"c":466,"q":62.7},{"c":467,"q":51.7},{"c":468,"q":62.7},
{"c":469,"q":20.3},{"c":470,"q":47.7},{"c":471,"q":50.3},{"c":472,"q":33.7},{"c":473,"q":1.3},{"c":474,"q":38},{"c":475,"q":28.7},{"c":476,"q":71},{"c":477,"q":38},{"c":478,"q":71},
{"c":479,"q":20.3},{"c":480,"q":56},{"c":481,"q":43.3},{"c":482,"q":24.3},{"c":483,"q":31},{"c":484,"q":1.3},{"c":485,"q":25.3},{"c":486,"q":44.7},{"c":487,"q":51.7},{"c":488,"q":24},
{"c":489,"q":8.7},{"c":490,"q":14.3},{"c":491,"q":10.3},{"c":492,"q":44.7},{"c":493,"q":40.7},{"c":494,"q":18.7},{"c":495,"q":27},{"c":496,"q":40.7},{"c":497,"q":38},{"c":498,"q":14.3},
{"c":499,"q":11.7},{"c":500,"q":8.7},{"c":501,"q":10.3},{"c":502,"q":7.3},{"c":503,"q":10.3},{"c":504,"q":8.7},{"c":505,"q":4.7},{"c":506,"q":1.3},{"c":507,"q":1.3}
]
},
"vconcat": [
{
"width": 1079.5, "height": 303,
"layer": [
{"data": {"name": "shade1"},
 "mark": {"type": "bar", "width": 9.95, "clip": true},
 "encoding": {
  "x": {"field": "c", "type": "quantitative", "scale": {"domain": [398.5, 508.205], "nice": false, "zero": false},
        "axis": {"orient": "top", "values": [400,410,420,430,440,450,460,470,480,490,500], "format": "d", "title": null, "domain": false, "ticks": false, "tickSize": 0, "labelPadding": 18.7, "labelBaseline": "middle", "labelFont": "Liberation Sans", "labelFontSize": 15, "labelColor": "#3a3a3a", "labelFlush": false, "labelOverlap": false}},
  "y": {"field": "y0", "type": "quantitative", "scale": {"domain": [0, 11], "reverse": true, "nice": false, "zero": false}, "axis": null},
  "y2": {"field": "y1"},
  "color": {"field": "k", "type": "nominal", "scale": {"domain": ["b","o","y","m","g","c","r"], "range": ["#c6c6c6","#adadad","#bcbcbc","#878787","#888888","#8c8c8c","#626262"]}, "legend": null}
 }},
{"data": {"name": "seq1"},
 "mark": {"type": "text", "align": "left", "baseline": "middle", "dx": -4.92, "font": "Liberation Mono", "fontSize": 16.4, "color": "#1c1c1c", "clip": true},
 "encoding": {
  "x": {"field": "start", "type": "quantitative",
        "axis": {"orient": "top", "values": [400,410,420,430,440,450,460,470,480,490,500], "format": "d", "title": null, "domain": false, "ticks": false, "tickSize": 0, "labelPadding": 18.7, "labelBaseline": "middle", "labelFont": "Liberation Sans", "labelFontSize": 15, "labelColor": "#3a3a3a", "labelFlush": false, "labelOverlap": false}},
  "y": {"field": "name", "type": "nominal", "scale": {"domain": ["Pokeweed/1-683","Trifolium/1-683","Apricot/1-683","Grape/1-683","Apple/1-683","Poplar/1-683","Tomato/1-683","Tobacco/1-683","Spinach/1-683","Wheat/1-683","Pearl/1-683"], "paddingInner": 0, "paddingOuter": 0},
        "axis": {"orient": "left", "title": null, "domain": false, "ticks": false, "tickSize": 0, "labelAlign": "left", "labelBaseline": "middle", "labelPadding": 147.5, "labelFont": "Liberation Mono", "labelFontSize": 16.4, "labelColor": "#2a2a2a", "labelLimit": 400}},
  "text": {"field": "seq", "type": "nominal"}
 }}
],
"resolve": {"scale": {"y": "independent"}}
},
{
"width": 1079.5, "height": 177.8,
"layer": [
{"data": {"name": "q1"},
 "mark": {"type": "bar", "width": 9.9, "color": "#737373", "orient": "vertical"},
 "encoding": {
  "x": {"field": "c", "type": "quantitative", "scale": {"domain": [398.5, 508.205], "nice": false, "zero": false}, "axis": null},
  "y": {"field": "q", "type": "quantitative", "scale": {"domain": [-72.8, 105], "nice": false},
        "axis": {"orient": "left", "title": "Quality/1-683", "labels": false, "ticks": false, "domain": false, "grid": false, "titleAngle": 0, "titleAlign": "left", "titleBaseline": "middle", "titleX": -147.5, "titleY": 56.3, "titleFont": "Liberation Mono", "titleFontSize": 16.4, "titleFontWeight": "normal", "titleColor": "#2a2a2a"}},
  "y2": {"datum": 0}
 }},
{"data": {"values": [{}]},
 "mark": {"type": "rule", "color": "#dcdcdc", "strokeWidth": 3.5},
 "encoding": {"x": {"datum": 381.78}, "x2": {"datum": 508.205}, "y": {"datum": -34.8}}}
]
},
{
"width": 1079.5, "height": 302.5,
"layer": [
{"data": {"name": "shade2"},
 "mark": {"type": "bar", "width": 9.95, "clip": true},
 "encoding": {
  "x": {"field": "c", "type": "quantitative", "scale": {"domain": [398.5, 508.205], "nice": false, "zero": false},
        "axis": {"orient": "top", "values": [400,410,420,430,440,450,460,470,480,490,500], "format": "d", "title": null, "domain": false, "ticks": false, "tickSize": 0, "labelPadding": 18.7, "labelBaseline": "middle", "labelFont": "Liberation Sans", "labelFontSize": 15, "labelColor": "#3a3a3a", "labelFlush": false, "labelOverlap": false}},
  "y": {"field": "y0", "type": "quantitative", "scale": {"domain": [0, 11], "reverse": true, "nice": false, "zero": false}, "axis": null},
  "y2": {"field": "y1"},
  "color": {"field": "k", "type": "nominal", "scale": {"domain": ["b","o","y","m","g","c","r"], "range": ["#c6c6c6","#adadad","#bcbcbc","#878787","#888888","#8c8c8c","#626262"]}, "legend": null}
 }},
{"data": {"name": "seq2"},
 "mark": {"type": "text", "align": "left", "baseline": "middle", "dx": -4.92, "font": "Liberation Mono", "fontSize": 16.4, "color": "#1c1c1c", "clip": true},
 "encoding": {
  "x": {"field": "start", "type": "quantitative",
        "axis": {"orient": "top", "values": [400,410,420,430,440,450,460,470,480,490,500], "format": "d", "title": null, "domain": false, "ticks": false, "tickSize": 0, "labelPadding": 18.7, "labelBaseline": "middle", "labelFont": "Liberation Sans", "labelFontSize": 15, "labelColor": "#3a3a3a", "labelFlush": false, "labelOverlap": false}},
  "y": {"field": "name", "type": "nominal", "scale": {"domain": ["Pokeweed/1-682","Trifolium/1-682","Apple/1-682","Poplar/1-682","Apricot/1-682","Grape/1-682","Tomato/1-682","Tobacco/1-682","Wheat/1-682","Spinach/1-682","Pearl/1-682"], "paddingInner": 0, "paddingOuter": 0},
        "axis": {"orient": "left", "title": null, "domain": false, "ticks": false, "tickSize": 0, "labelAlign": "left", "labelBaseline": "middle", "labelPadding": 145.5, "labelFont": "Liberation Mono", "labelFontSize": 16.4, "labelColor": "#2a2a2a", "labelLimit": 400}},
  "text": {"field": "seq", "type": "nominal"}
 }}
],
"resolve": {"scale": {"y": "independent"}}
},
{
"width": 1079.5, "height": 181,
"layer": [
{"data": {"name": "q2"},
 "mark": {"type": "bar", "width": 9.9, "color": "#c9c9c9", "orient": "vertical"},
 "encoding": {
  "x": {"field": "c", "type": "quantitative", "scale": {"domain": [398.5, 508.205], "nice": false, "zero": false}, "axis": null},
  "y": {"field": "q", "type": "quantitative", "scale": {"domain": [-75.3, 105.7], "nice": false},
        "axis": {"orient": "left", "title": "Quality/1-682", "labels": false, "ticks": false, "domain": false, "grid": false, "titleAngle": 0, "titleAlign": "left", "titleBaseline": "middle", "titleX": -145.5, "titleY": 57, "titleFont": "Liberation Mono", "titleFontSize": 16.4, "titleFontWeight": "normal", "titleColor": "#2a2a2a"}},
  "y2": {"datum": 0}
 }}
]
},
{
"width": 1079.5, "height": 302.5,
"layer": [
{"data": {"name": "shade3"},
 "mark": {"type": "bar", "width": 9.95, "clip": true},
 "encoding": {
  "x": {"field": "c", "type": "quantitative", "scale": {"domain": [397.5346, 507.2399], "nice": false, "zero": false},
        "axis": {"orient": "top", "values": [400,410,420,430,440,450,460,470,480,490,500], "format": "d", "title": null, "domain": false, "ticks": false, "tickSize": 0, "labelPadding": 18.7, "labelBaseline": "middle", "labelFont": "Liberation Sans", "labelFontSize": 15, "labelColor": "#3a3a3a", "labelFlush": false, "labelOverlap": false}},
  "y": {"field": "y0", "type": "quantitative", "scale": {"domain": [0, 11], "reverse": true, "nice": false, "zero": false}, "axis": null},
  "y2": {"field": "y1"},
  "color": {"field": "k", "type": "nominal", "scale": {"domain": ["b","o","y","m","g","c","r"], "range": ["#c6c6c6","#adadad","#bcbcbc","#878787","#888888","#8c8c8c","#626262"]}, "legend": null}
 }},
{"data": {"name": "seq3"},
 "mark": {"type": "text", "align": "left", "baseline": "middle", "dx": -4.92, "font": "Liberation Mono", "fontSize": 16.4, "color": "#1c1c1c", "clip": true},
 "encoding": {
  "x": {"field": "start", "type": "quantitative",
        "axis": {"orient": "top", "values": [400,410,420,430,440,450,460,470,480,490,500], "format": "d", "title": null, "domain": false, "ticks": false, "tickSize": 0, "labelPadding": 18.7, "labelBaseline": "middle", "labelFont": "Liberation Sans", "labelFontSize": 15, "labelColor": "#3a3a3a", "labelFlush": false, "labelOverlap": false}},
  "y": {"field": "name", "type": "nominal", "scale": {"domain": ["Pokeweed/1-682","Trifolium/1-682","Apple/1-682","Poplar/1-682","Apricot/1-682","Grape/1-682","Tomato/1-682","Tobacco/1-682","Spinach/1-682","Wheat/1-682","Pearl/1-682"], "paddingInner": 0, "paddingOuter": 0},
        "axis": {"orient": "left", "title": null, "domain": false, "ticks": false, "tickSize": 0, "labelAlign": "left", "labelBaseline": "middle", "labelPadding": 137.5, "labelFont": "Liberation Mono", "labelFontSize": 16.4, "labelColor": "#2a2a2a", "labelLimit": 400}},
  "text": {"field": "seq", "type": "nominal"}
 }}
],
"resolve": {"scale": {"y": "independent"}}
},
{
"width": 1079.5, "height": 101.2,
"layer": [
{"data": {"name": "q3"},
 "mark": {"type": "bar", "width": 9.9, "color": "#737373", "orient": "vertical"},
 "encoding": {
  "x": {"field": "c", "type": "quantitative", "scale": {"domain": [397.5346, 507.2399], "nice": false, "zero": false}, "axis": null},
  "y": {"field": "q", "type": "quantitative", "scale": {"domain": [0, 101.2], "nice": false},
        "axis": {"orient": "left", "title": "Quality/1-682", "labels": false, "ticks": false, "domain": false, "grid": false, "titleAngle": 0, "titleAlign": "left", "titleBaseline": "middle", "titleX": -137.5, "titleY": 56.5, "titleFont": "Liberation Mono", "titleFontSize": 16.4, "titleFontWeight": "normal", "titleColor": "#2a2a2a"}},
  "y2": {"datum": 0}
 }}
]
}
]
}
